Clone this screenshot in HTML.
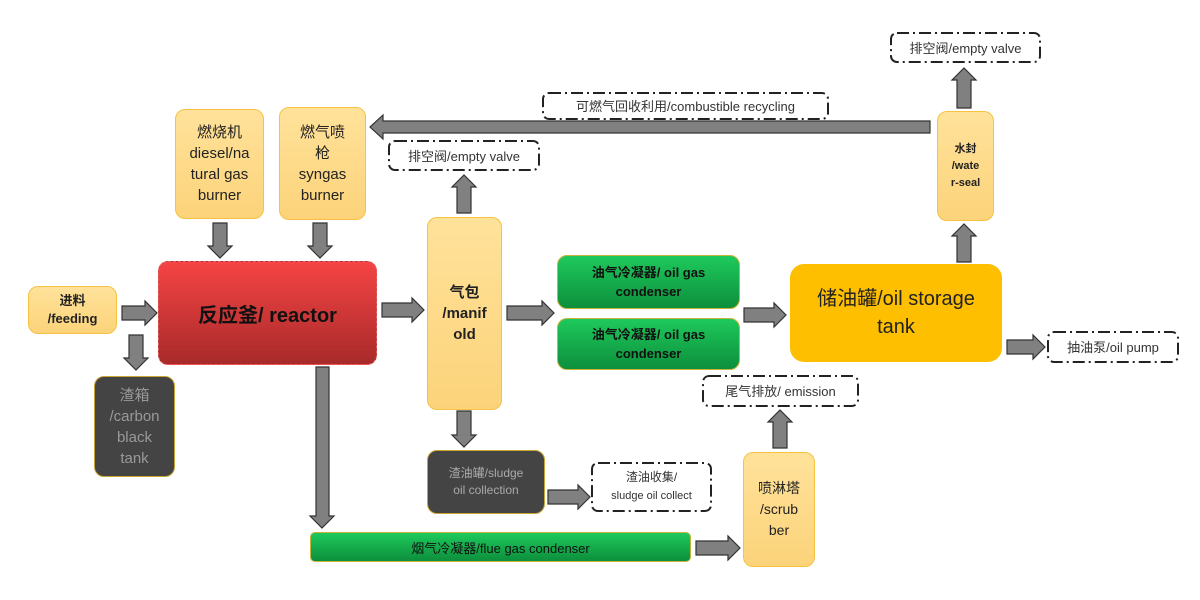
<!DOCTYPE html>
<html><head><meta charset="utf-8">
<style>
html,body{margin:0;padding:0;background:#fff;}
body{width:1200px;height:600px;position:relative;overflow:hidden;font-family:"Liberation Sans","Noto Sans CJK SC",sans-serif;}
.b{position:absolute;box-sizing:border-box;display:flex;align-items:center;justify-content:center;text-align:center;border-radius:10px;}
.y{background:linear-gradient(#ffe29a,#fcd37a);border:1.5px solid #f5c242;color:#222;}
.g{background:linear-gradient(#1ec95c,#0d8f3c);border:1.5px solid #c8b43a;color:#111;font-weight:bold;}
.d{background:#444;border:1.5px solid #c9a531;color:#aaa;}
.dash{color:#333;}
svg{position:absolute;left:0;top:0;}
</style></head><body>
<svg width="1200" height="600">
<g fill="#808080" stroke="#333" stroke-width="1.2">
<polygon points="122,306 145,306 145,301 157,313 145,325 145,320 122,320"/>
<polygon points="129,335 143,335 143,358 148,358 136,370 124,358 129,358"/>
<polygon points="213,223 227,223 227,246 232,246 220,258 208,246 213,246"/>
<polygon points="313,223 327,223 327,246 332,246 320,258 308,246 313,246"/>
<polygon points="382,303 412,303 412,298 424,310 412,322 412,317 382,317"/>
<polygon points="457,213 471,213 471,187 476,187 464,175 452,187 457,187"/>
<polygon points="507,306 542,306 542,301 554,313 542,325 542,320 507,320"/>
<polygon points="457,411 471,411 471,435 476,435 464,447 452,435 457,435"/>
<polygon points="744,308 774,308 774,303 786,315 774,327 774,322 744,322"/>
<polygon points="957,262 971,262 971,236 976,236 964,224 952,236 957,236"/>
<polygon points="957,108 971,108 971,80 976,80 964,68 952,80 957,80"/>
<polygon points="930,121 383,121 383,115 370,127 383,139 383,133 930,133"/>
<polygon points="1007,340 1033,340 1033,335 1045,347 1033,359 1033,354 1007,354"/>
<polygon points="773,448 787,448 787,422 792,422 780,410 768,422 773,422"/>
<polygon points="548,490 578,490 578,485 590,497 578,509 578,504 548,504"/>
<polygon points="696,541 728,541 728,536 740,548 728,560 728,555 696,555"/>
<polygon points="316,367 329,367 329,516 334,516 322,528 310,516 316,516"/>
</g>
<g fill="#fff" stroke="#222" stroke-width="2" stroke-dasharray="12,4,2,4">
<rect x="891" y="33" width="149" height="29" rx="6"/>
<rect x="389" y="141" width="150" height="29" rx="6"/>
<rect x="543" y="93" width="285" height="26" rx="6"/>
<rect x="1048" y="332" width="130" height="30" rx="6"/>
<rect x="703" y="376" width="155" height="30" rx="6"/>
<rect x="592" y="463" width="119" height="48" rx="6"/>
</g>
</svg>

<div class="b y" style="left:28px;top:286px;width:89px;height:48px;font-size:13px;font-weight:bold;line-height:18px;">进料<br>/feeding</div>
<div class="b" style="left:158px;top:261px;width:219px;height:104px;background:linear-gradient(#f54444,#a82a2a);border:1px dashed #e06060;font-size:20px;font-weight:bold;color:#111;">反应釜/ reactor</div>
<div class="b y" style="left:175px;top:109px;width:89px;height:110px;font-size:15px;line-height:21px;">燃烧机<br>diesel/na<br>tural gas<br>burner</div>
<div class="b y" style="left:279px;top:107px;width:87px;height:113px;font-size:15px;line-height:21px;">燃气喷<br>枪<br>syngas<br>burner</div>
<div class="b d" style="left:94px;top:376px;width:81px;height:101px;font-size:15px;line-height:21px;color:#999;">渣箱<br>/carbon<br>black<br>tank</div>
<div class="b y" style="left:427px;top:217px;width:75px;height:193px;font-size:15px;font-weight:bold;line-height:21px;">气包<br>/manif<br>old</div>
<div class="b g" style="left:557px;top:255px;width:183px;height:54px;font-size:13px;line-height:19px;">油气冷凝器/ oil gas<br>condenser</div>
<div class="b g" style="left:557px;top:318px;width:183px;height:52px;font-size:13px;line-height:19px;">油气冷凝器/ oil gas<br>condenser</div>
<div class="b" style="left:790px;top:264px;width:212px;height:98px;background:#fdbf00;border-radius:14px;font-size:20px;line-height:28px;color:#222;">储油罐/oil storage<br>tank</div>
<div class="b y" style="left:937px;top:111px;width:57px;height:110px;font-size:11px;font-weight:bold;line-height:17px;">水封<br>/wate<br>r-seal</div>
<div class="b dash" style="left:891px;top:32px;width:149px;height:30px;font-size:13px;">排空阀/empty valve</div>
<div class="b dash" style="left:389px;top:140px;width:150px;height:30px;font-size:13px;">排空阀/empty valve</div>
<div class="b dash" style="left:543px;top:92px;width:285px;height:27px;font-size:13px;">可燃气回收利用/combustible recycling</div>
<div class="b dash" style="left:1048px;top:331px;width:130px;height:31px;font-size:13px;">抽油泵/oil pump</div>
<div class="b dash" style="left:703px;top:375px;width:155px;height:31px;font-size:13px;">尾气排放/ emission</div>
<div class="b d" style="left:427px;top:450px;width:118px;height:64px;font-size:12px;line-height:17px;color:#aaa;">渣油罐/sludge<br>oil collection</div>
<div class="b dash" style="left:592px;top:462px;width:119px;height:49px;font-size:12px;line-height:18px;"><div>渣油收集/<br><span style="font-size:11px">sludge oil collect</span></div></div>
<div class="b g" style="left:310px;top:532px;width:381px;height:30px;font-size:13px;font-weight:normal;border-radius:5px;">烟气冷凝器/flue gas condenser</div>
<div class="b y" style="left:743px;top:452px;width:72px;height:115px;font-size:14px;line-height:21px;">喷淋塔<br>/scrub<br>ber</div>
</body></html>
